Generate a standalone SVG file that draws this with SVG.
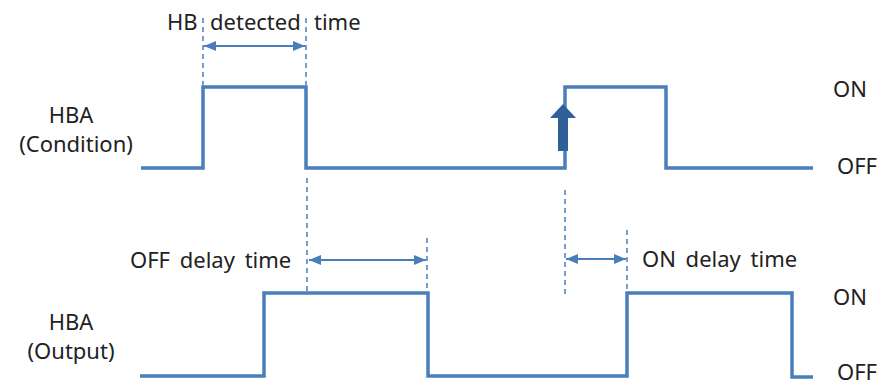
<svg xmlns="http://www.w3.org/2000/svg" width="881" height="386" viewBox="0 0 881 386">
<defs>
<style>
text{font-family:"Noto Sans","Liberation Sans",sans-serif;font-size:22px;fill:#222}
.wave{fill:none;stroke:#4a7ebb;stroke-width:3.5;stroke-linejoin:miter}
.dash{fill:none;stroke:#4a7ebb;stroke-width:1.5;stroke-dasharray:5 4}
.dim{fill:none;stroke:#4a7ebb;stroke-width:2}
</style>
<marker id="ah" viewBox="0 0 12 10" refX="12" refY="5" markerWidth="12" markerHeight="10" markerUnits="userSpaceOnUse" orient="auto-start-reverse">
<path d="M0,0 L12,5 L0,10 Z" fill="#4a7ebb"/>
</marker>
</defs>
<g id="label-condition">
<text x="71" y="123" text-anchor="middle">HBA</text>
<text x="76" y="152" text-anchor="middle">(Condition)</text>
</g>
<g id="label-output">
<text x="71" y="330" text-anchor="middle">HBA</text>
<text x="71" y="359" text-anchor="middle">(Output)</text>
</g>
<g id="levels">
<text x="833" y="97">ON</text>
<text x="837" y="174">OFF</text>
<text x="833" y="305">ON</text>
<text x="837" y="380">OFF</text>
</g>
<g id="wave-condition">
<path class="wave" d="M141,168 H203 V87 H306 V168 H565 V87 H666 V168 H813"/>
<path d="M563,104 L576,118 L568,118 L568,151 L558,151 L558,118 L550,118 Z" fill="#30609a"/>
</g>
<g id="wave-output">
<path class="wave" d="M140,376 H264 V293 H428 V376 H627 V293 H792 V377 H813"/>
</g>
<g id="connectors">
<path class="dash" d="M203,18 V85"/>
<path class="dash" d="M306,18 V85"/>
<path class="dash" d="M307,178 V292"/>
<path class="dash" d="M427,238 V291"/>
<path class="dash" d="M565,190 V297"/>
<path class="dash" d="M627,230 V291"/>
<path class="dim" d="M204,46 H305" marker-start="url(#ah)" marker-end="url(#ah)"/>
<path class="dim" d="M309,260 H426" marker-start="url(#ah)" marker-end="url(#ah)"/>
<path class="dim" d="M566,259 H626" marker-start="url(#ah)" marker-end="url(#ah)"/>
</g>
<g id="dim-labels">
<text y="30"><tspan x="167">HB</tspan><tspan x="210">detected</tspan><tspan x="314">time</tspan></text>
<text x="130" y="268" word-spacing="4">OFF delay time</text>
<text x="642" y="267" word-spacing="4">ON delay time</text>
</g>
</svg>
